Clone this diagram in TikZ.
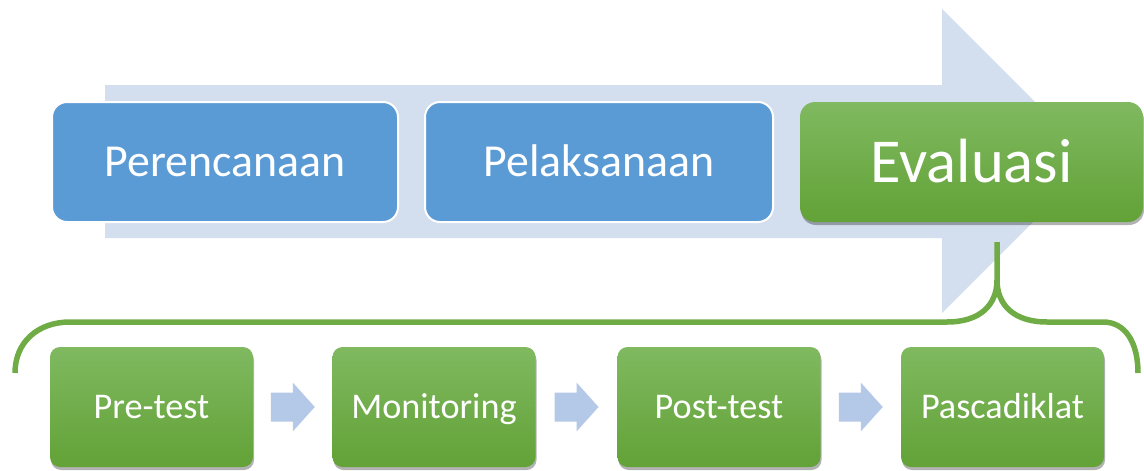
\documentclass[tikz,border=0pt]{standalone}
\usepackage{fontspec}
\setmainfont{Carlito}
\usetikzlibrary{calc,shadows}
\definecolor{bigarrow}{HTML}{D3DEEF}
\definecolor{boxblue}{HTML}{5B9BD5}
\definecolor{greentop}{HTML}{80B960}
\definecolor{greenbot}{HTML}{62A237}
\definecolor{bracegreen}{HTML}{6FAC46}
\definecolor{smallarrow}{HTML}{B4C8E7}
\tikzset{
  bluebox/.style={draw=white, line width=2pt, fill=boxblue, rounded corners=15pt,
    minimum height=120pt, text=white, font=\fontsize{45.8}{54}\selectfont,
    text height=29.5pt, text depth=0pt},
  greenbox/.style={draw=none, top color=greentop, bottom color=greenbot, rounded corners=12pt,
    minimum height=120pt, text=white,
    drop shadow={shadow xshift=1pt, shadow yshift=-3pt, opacity=0.3, fill=black}},
  smallbox/.style={greenbox, minimum width=203pt, rounded corners=10pt,
    font=\fontsize{36.2}{42}\selectfont, text height=23.3pt, text depth=0pt},
  bracestyle/.style={draw=bracegreen, line width=5.5pt},
}
\newcommand{\flowarrow}[1]{%
  \fill[smallarrow] ($(#1)+(-22,-14.5)$) -- ++(22,0) -- ++(0,-10) -- ++(22,24.5)
    -- ++(-22,24.5) -- ++(0,-10) -- ++(-22,0) -- cycle;}
\begin{document}
\begin{tikzpicture}[x=1pt,y=-1pt]
\useasboundingbox (0,0) rectangle (1144,471);
% big background arrow
\fill[bigarrow] (105,85) -- (942,85) -- (942,9) -- (1094,161) -- (942,313)
  -- (942,238) -- (105,238) -- cycle;
% top row
\node[bluebox, minimum width=346pt] (per) at (225,162) {Perencanaan};
\node[bluebox, minimum width=348pt] (pel) at (599,162) {Pelaksanaan};
\node[greenbox, minimum width=343pt, rounded corners=15pt,
  font=\fontsize{62.5}{72}\selectfont, text height=40.3pt, text depth=0pt] (eva) at (971.5,162) {Evaluasi};
% brace
\coordinate (stem) at ($(eva.south)+(25.5,20)$);
\draw[bracestyle] (15,373) .. controls (15,342) and (38,322) .. (70,322)
  -- (947,322) .. controls (980,322) and (997,305) .. (997,280) -- (stem);
\draw[bracestyle] (997,280) .. controls (997,305) and (1014,322) .. (1047,322)
  -- (1103,322) .. controls (1125,322) and (1138,342) .. (1138,373);
% bottom row
\node[smallbox] (pre) at (151.5,407) {Pre-test};
\node[smallbox] (mon) at (434,407) {Monitoring};
\node[smallbox] (post) at (719,407) {Post-test};
\node[smallbox] (pasc) at (1002.5,407) {Pascadiklat};
\coordinate (a1) at ($(pre.east)!0.5!(mon.west)$);
\coordinate (a2) at ($(mon.east)!0.5!(post.west)$);
\coordinate (a3) at ($(post.east)!0.5!(pasc.west)$);
\flowarrow{a1}
\flowarrow{a2}
\flowarrow{a3}
\end{tikzpicture}
\end{document}
